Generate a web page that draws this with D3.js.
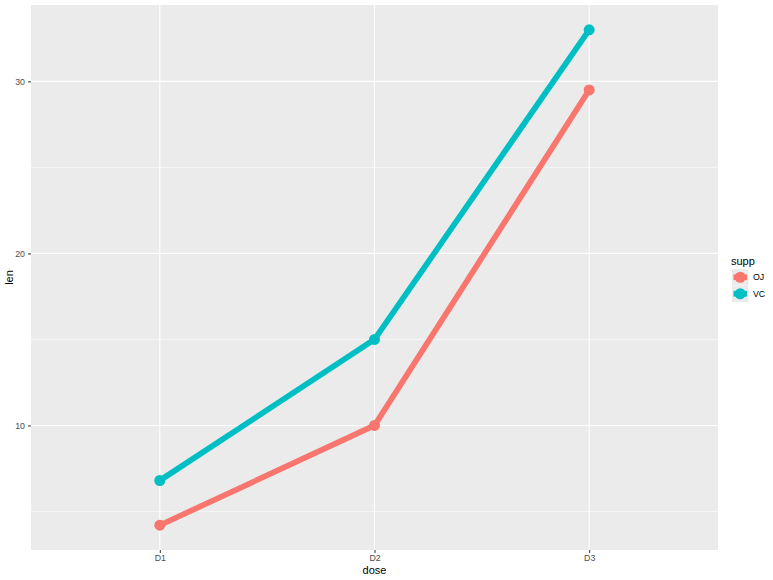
<!DOCTYPE html>
<html><head><meta charset="utf-8">
<script src="https://cdn.jsdelivr.net/npm/d3@7"></script>
<style>body{margin:0;background:#fff}svg{display:block;font-family:"Liberation Sans",Arial,sans-serif}</style>
</head><body><svg id="c" width="773" height="580"></svg>
<script>
const doses = ["D1","D2","D3"];
const supps = ["OJ","VC"];
const ojLen = [4.2, 10, 29.5];
const vcLen = [6.8, 15, 33];
const yTicks = [10, 20, 30];
const yMinor = [5, 15, 25];
const colors = ["#F8766D","#00BFC4"];

const svg = d3.select("#c");
const L = 31, R = 718, T = 5, B = 550;
const series = [ojLen, vcLen];
const allV = ojLen.concat(vcLen);
const lo = d3.min(allV), hi = d3.max(allV), pad = (hi-lo)*0.05;
const y = d3.scaleLinear().domain([lo-pad, hi+pad]).range([B, T]);
const xp = d3.scalePoint().domain(doses).range([L, R]).padding(0.6);

svg.append("rect").attr("x",L).attr("y",T).attr("width",R-L).attr("height",B-T).attr("fill","#EBEBEB");
const g = svg.append("g");
g.selectAll(".ymin").data(yMinor).join("line").attr("x1",L).attr("x2",R)
  .attr("y1",d=>y(d)).attr("y2",d=>y(d)).attr("stroke","#fff").attr("stroke-width",0.55);
g.selectAll(".ymaj").data(yTicks).join("line").attr("x1",L).attr("x2",R)
  .attr("y1",d=>y(d)).attr("y2",d=>y(d)).attr("stroke","#fff").attr("stroke-width",1.1);
g.selectAll(".xmaj").data(doses).join("line").attr("y1",T).attr("y2",B)
  .attr("x1",d=>xp(d)).attr("x2",d=>xp(d)).attr("stroke","#fff").attr("stroke-width",1.1);

// axes
const ya = svg.append("g").attr("transform",`translate(${L},0)`).call(d3.axisLeft(y).tickValues(yTicks).tickSize(3).tickPadding(3));
const xa = svg.append("g").attr("transform",`translate(0,${B})`).call(d3.axisBottom(xp).tickSize(3).tickPadding(2));
[ya,xa].forEach(a=>{a.select(".domain").remove();a.selectAll("line").attr("stroke","#333");
  a.selectAll("text").attr("fill","#4D4D4D").attr("font-size","8.8px").attr("font-family","Liberation Sans, Arial, sans-serif");});

// lines
const line = d3.line().x((d,i)=>xp(doses[i])).y(d=>y(d));
series.forEach((s,k)=>{
  svg.append("path").datum(s).attr("d",line).attr("fill","none").attr("stroke",colors[k]).attr("stroke-width",5.7);
  svg.selectAll(".p"+k).data(s).join("circle").attr("cx",(d,i)=>xp(doses[i])).attr("cy",d=>y(d)).attr("r",5.5).attr("fill",colors[k]);
});

// axis titles
svg.append("text").attr("x",(L+R)/2).attr("y",574).attr("text-anchor","middle").attr("font-size","11px").attr("fill","#000").text("dose");
svg.append("text").attr("transform",`translate(13,${(T+B)/2}) rotate(-90)`).attr("text-anchor","middle").attr("font-size","11px").attr("fill","#000").text("len");

// legend
const lg = svg.append("g");
lg.append("text").attr("x",731).attr("y",265).attr("font-size","11px").attr("fill","#000").text("supp");
supps.forEach((s,k)=>{
  const ks = 16.5, yy = 269 + k*ks;
  lg.append("rect").attr("x",732).attr("y",yy).attr("width",ks).attr("height",ks).attr("fill","#EBEBEB");
  lg.append("line").attr("x1",733.5).attr("x2",732+ks-1.5).attr("y1",yy+ks/2).attr("y2",yy+ks/2).attr("stroke",colors[k]).attr("stroke-width",5.7);
  lg.append("circle").attr("cx",732+ks/2).attr("cy",yy+ks/2).attr("r",5.5).attr("fill",colors[k]);
  lg.append("text").attr("x",753).attr("y",yy+ks/2+3.2).attr("font-size","8.8px").attr("fill","#000").text(s);
});
</script></body></html>
